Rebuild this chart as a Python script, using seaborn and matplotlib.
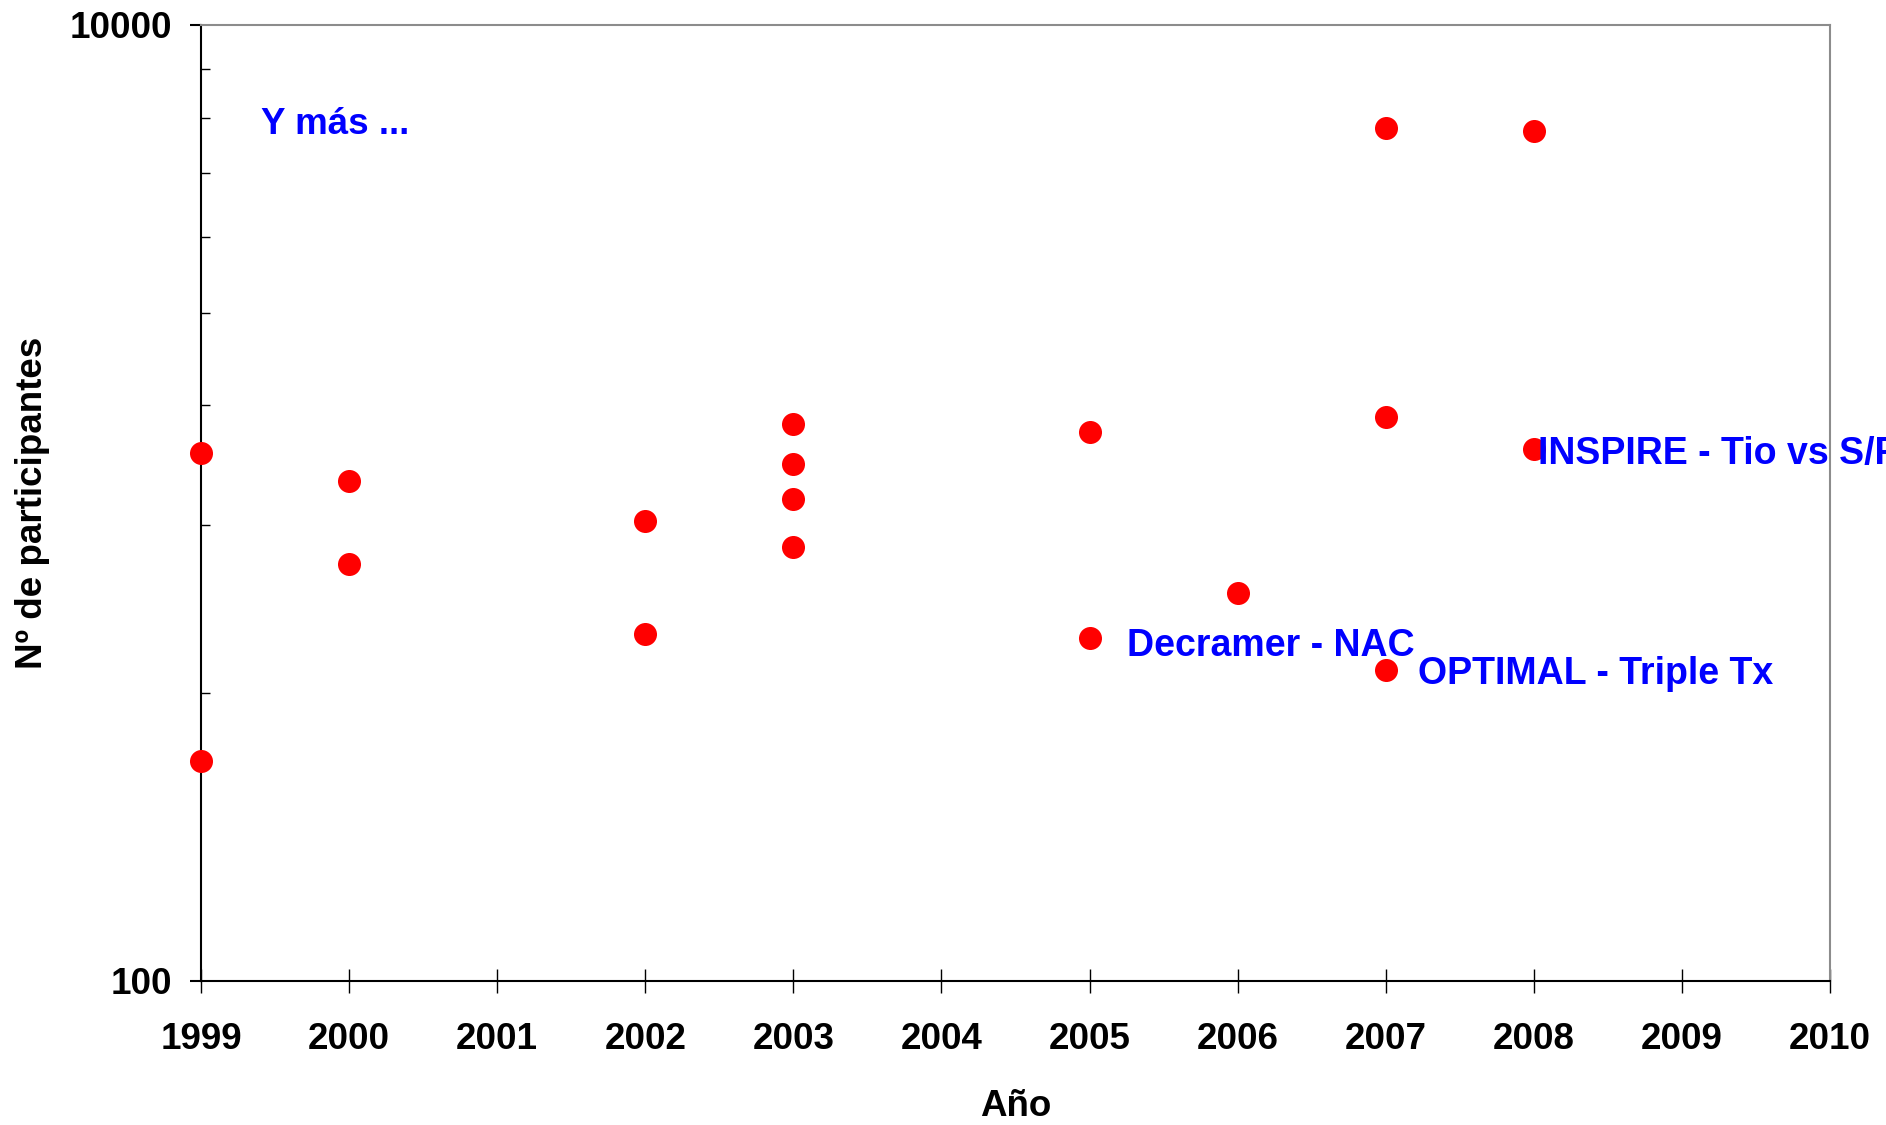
import pandas as pd
import seaborn as sns
import matplotlib.pyplot as plt
from matplotlib.ticker import FixedLocator, NullFormatter


# participants per trial
years = [1999, 1999, 2000, 2000, 2002, 2002, 2003, 2003, 2003, 2003,
         2005, 2005, 2006, 2007, 2007, 2007, 2008, 2008]
participants = [1274, 289, 1112, 747, 918, 532, 1463, 1205, 1019, 809,
                1405, 523, 648, 6100, 1511, 447, 6000, 1300]

x_ticks = list(range(1999, 2011))
y_major = [100, 10000]
y_minor = [100 * k ** 2 for k in range(2, 10)]

df = pd.DataFrame({'Año': years, 'Nº de participantes': participants})

sns.set_theme(style='white')
plt.rcParams['font.family'] = ['Liberation Sans', 'DejaVu Sans']
plt.rcParams['font.weight'] = 'bold'

fig = plt.figure(figsize=(18.86, 11.25), dpi=100)
ax = fig.add_axes([201 / 1886, 1 - 981 / 1125, 1629 / 1886, 956 / 1125])

sns.scatterplot(data=df, x='Año', y='Nº de participantes', ax=ax,
                color='#ff0000', s=275, linewidth=0, clip_on=False, zorder=3)

ax.set_yscale('log')
ax.set_xlim(1999, 2010)
ax.set_ylim(100, 10000)
ax.set_xticks(x_ticks)
ax.set_xticklabels([str(y) for y in x_ticks], fontsize=26.5, fontweight='bold')
ax.yaxis.set_major_locator(FixedLocator(y_major))
ax.yaxis.set_minor_locator(FixedLocator(y_minor))
ax.yaxis.set_minor_formatter(NullFormatter())
ax.set_yticklabels(['100', '10000'], fontsize=26.5, fontweight='bold')

# seaborn's white style hides ticks, switch them back on
ax.tick_params(axis='x', which='major', bottom=True, direction='inout',
               length=17, width=1, color='black', pad=21)
ax.tick_params(axis='y', which='major', left=True, direction='out', length=8,
               width=1.5, color='black', pad=13)
ax.tick_params(axis='y', which='minor', left=True, direction='in', length=6.5,
               width=1, color='black')
ax.tick_params(labelcolor='black')

for side in ['left', 'bottom']:
    ax.spines[side].set_color('black')
    ax.spines[side].set_linewidth(1.5)
for side in ['top', 'right']:
    ax.spines[side].set_color('#8c8c8c')
    ax.spines[side].set_linewidth(1.5)

ax.set_xlabel('Año', fontsize=26.5, fontweight='bold', color='black')
ax.set_ylabel('Nº de participantes', fontsize=26.5, fontweight='bold', color='black')
ax.xaxis.set_label_coords(0.5, -0.131)
ax.xaxis.label.set_va('center')
ax.yaxis.set_label_coords(-0.1037, 0.5)
ax.yaxis.label.set_va('center')

blue = '#0000ff'
ax.text(1999.405, 5916, 'Y más ...', color=blue, fontsize=26.5, fontweight='bold',
        va='baseline')
ax.text(2005.25, 478, 'Decramer - NAC', color=blue, fontsize=27,
        fontweight='bold', va='baseline')
ax.text(2007.22, 418, 'OPTIMAL - Triple Tx', color=blue, fontsize=27,
        fontweight='bold', va='baseline')
# runs past the right edge of the figure, as in the original
ax.text(2008.03, 1204, 'INSPIRE - Tio vs S/F', color=blue, fontsize=27,
        fontweight='bold', va='baseline', clip_on=False)

fig.savefig('out.png', dpi=100)
